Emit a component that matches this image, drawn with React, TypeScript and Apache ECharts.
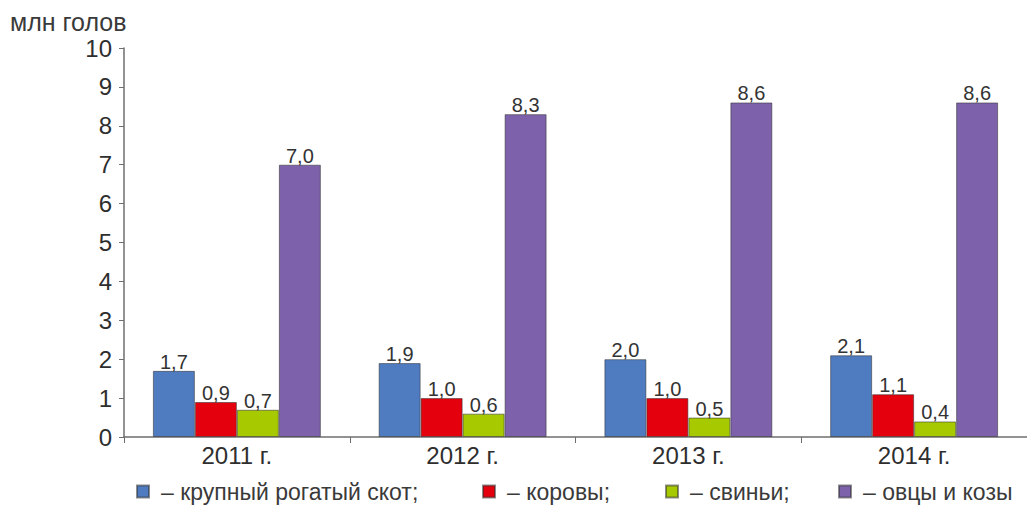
import React, { useEffect, useRef } from "react";
import * as echarts from "echarts";

const categories = ["2011 г.", "2012 г.", "2013 г.", "2014 г."];
const seriesNames = ["крупный рогатый скот", "коровы", "свиньи", "овцы и козы"];
const cattle = [1.7, 1.9, 2.0, 2.1];
const cows = [0.9, 1.0, 1.0, 1.1];
const pigs = [0.7, 0.6, 0.5, 0.4];
const sheepGoats = [7.0, 8.3, 8.6, 8.6];
const colors = ["#4f7cc1", "#e5000d", "#a6c900", "#7d62ab"];
const legendSuffix = [";", ";", ";", ""];
const legendLeft = [136, 482, 665, 838];

export default function App() {
  const ref = useRef<HTMLDivElement>(null);
  useEffect(() => {
    const chart = echarts.init(ref.current!, null, { renderer: "svg" });
    const values = [cattle, cows, pigs, sheepGoats];
    const font = "Liberation Sans, Arial, sans-serif";
    chart.setOption({
      animation: false,
      textStyle: { fontFamily: font },
      title: {
        text: "млн голов",
        left: 10,
        top: 9,
        padding: 0,
        textStyle: { fontSize: 25, fontWeight: "normal", color: "#3a3a3a", fontFamily: font, lineHeight: 26 },
      },
      grid: { left: 124, right: 0, top: 48, bottom: 69, containLabel: false },
      legend: seriesNames.map((n, i) => ({
        data: [n],
        left: legendLeft[i],
        top: 480,
        icon: "rect",
        itemWidth: 12,
        itemHeight: 12,
        itemGap: 4,
        padding: 0,
        selectedMode: false,
        formatter: (name: string) => "– " + name + legendSuffix[i],
        textStyle: { fontSize: 23, lineHeight: 22, color: "#3a3a3a", fontFamily: font, padding: [0, 0, 0, 7] },
      })),
      xAxis: {
        type: "category",
        data: categories,
        axisLine: { lineStyle: { color: "#6e6e6e", width: 1.5 } },
        axisTick: { show: true, length: 6, alignWithLabel: false, lineStyle: { color: "#6e6e6e" } },
        axisLabel: { fontSize: 24, color: "#2e2e2e", margin: 6, fontFamily: font },
      },
      yAxis: {
        type: "value",
        min: 0,
        max: 10,
        interval: 1,
        splitLine: { show: false },
        axisLine: { show: true, lineStyle: { color: "#6e6e6e", width: 1.5 } },
        axisTick: { show: true, length: 5, lineStyle: { color: "#6e6e6e" } },
        axisLabel: { fontSize: 24, color: "#2e2e2e", margin: 12, fontFamily: font },
      },
      series: seriesNames.map((n, i) => ({
        name: n,
        type: "bar",
        data: values[i],
        barGap: "0%",
        barCategoryGap: "25.6%",
        itemStyle: { color: colors[i], borderColor: "rgba(50,50,50,0.55)", borderWidth: 1 },
        label: {
          show: true,
          position: "top",
          distance: -1,
          fontSize: 20,
          color: "#333333",
          fontFamily: font,
          formatter: (p: any) => Number(p.value).toFixed(1).replace(".", ","),
        },
      })),
    });
    return () => chart.dispose();
  }, []);
  return <div ref={ref} style={{ width: 1027, height: 506, position: "absolute", left: 0, top: 0 }} />;
}
